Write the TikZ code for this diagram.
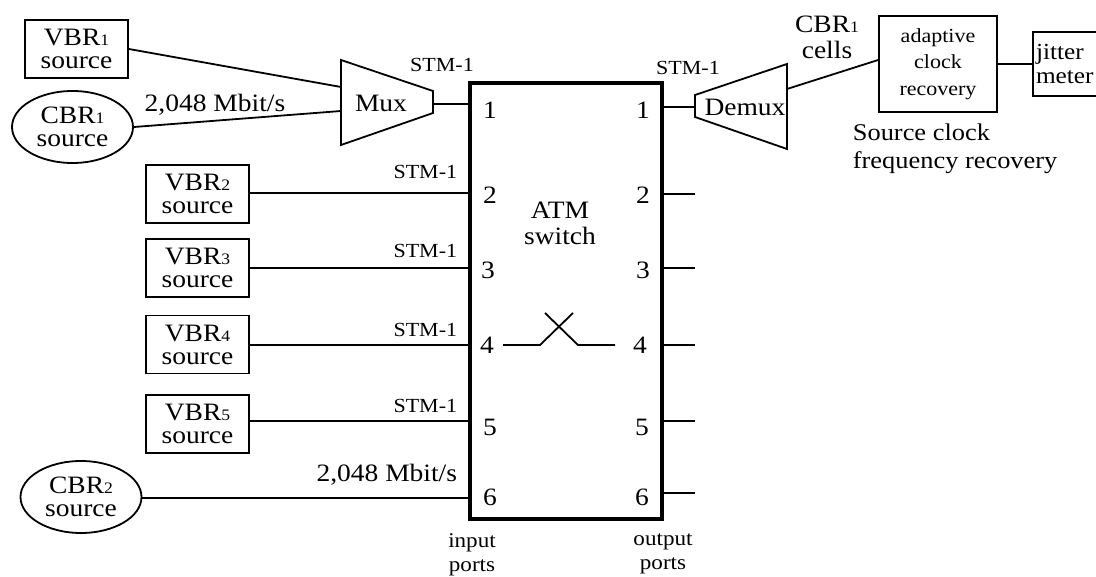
\documentclass[tikz,border=0pt]{standalone}
\usepackage{fontspec}
\setmainfont{Liberation Serif}[FakeStretch=1.1]
\usetikzlibrary{shapes.geometric}
\newcommand{\kecil}[1]{{\fontsize{16}{16}\selectfont #1}}

\begin{document}
\begin{tikzpicture}[x=1pt, y=-1pt, line width=1.8pt,
    sumber/.style={draw, rectangle, minimum width=103pt, minimum height=58pt,
        inner sep=0pt, align=center, font=\fontsize{25}{23}\selectfont},
    sumberbulat/.style={sumber, ellipse, minimum width=121pt, minimum height=72pt},
    stm/.style={inner sep=0pt, font=\fontsize{20}{20}\selectfont},
    teks/.style={inner sep=0pt, align=center, font=\fontsize{25}{26}\selectfont},
    nomor/.style={inner sep=0pt, font=\fontsize{25}{25}\selectfont}]

\clip (0,0) rectangle (1096,577);

    % Sumber trafik
    \node[sumber] (vbr1) at (76.5,49) {VBR\kecil{1}\\source};
    \node[sumberbulat] (cbr1) at (72.5,127) {CBR\kecil{1}\\source};
    \node[sumber] (vbr2) at (197.5,194) {VBR\kecil{2}\\source};
    \node[sumber] (vbr3) at (197.5,268) {VBR\kecil{3}\\source};
    \node[sumber] (vbr4) at (197.5,344.5) {VBR\kecil{4}\\source};
    \node[sumber] (vbr5) at (197.5,424) {VBR\kecil{5}\\source};
    \node[sumberbulat] (cbr2) at (81,497) {CBR\kecil{2}\\source};

    % Mux dan demux
    \draw (341,60) -- (433,91) -- (433,113) -- (341,145) -- cycle;
    \node[teks] (mux) at (381,103) {Mux};
    \coordinate (muxa) at (341,87);
    \coordinate (muxb) at (341,111);
    \coordinate (muxout) at (433,104);
    \draw (695,95) -- (787,64) -- (787,149) -- (695,117) -- cycle;
    \node[teks] (demux) at (745,107) {Demux};
    \coordinate (demuxin) at (695,107);
    \coordinate (demuxout) at (787,89);

    % Switch ATM
    \node[draw, line width=3.3pt, minimum width=192pt, minimum height=436pt,
        inner sep=0pt] (atm) at (566,301) {};
    \node[teks] (atmteks) at (560,223) {ATM\\switch};
    \coordinate (pin1) at (470,104);
    \coordinate (pin2) at (470,193);
    \coordinate (pin3) at (470,268);
    \coordinate (pin4) at (470,345);
    \coordinate (pin5) at (470,421);
    \coordinate (pin6) at (470,498);
    \coordinate (pout1) at (662,107);
    \coordinate (pout2) at (662,194);
    \coordinate (pout3) at (662,268);
    \coordinate (pout4) at (662,345);
    \coordinate (pout5) at (662,421);
    \coordinate (pout6) at (662,493);
    \coordinate (ujung2) at (695,194);
    \coordinate (ujung3) at (695,268);
    \coordinate (ujung4) at (695,345);
    \coordinate (ujung5) at (695,421);
    \coordinate (ujung6) at (695,493);

    \node[nomor] (i1) at (490,110) {1};
    \node[nomor] (i2) at (490,195) {2};
    \node[nomor] (i3) at (488,270) {3};
    \node[nomor] (i4) at (487,345) {4};
    \node[nomor] (i5) at (490,427) {5};
    \node[nomor] (i6) at (490,497) {6};
    \node[nomor] (o1) at (643,110) {1};
    \node[nomor] (o2) at (643,195) {2};
    \node[nomor] (o3) at (643,270) {3};
    \node[nomor] (o4) at (640,345) {4};
    \node[nomor] (o5) at (642,427) {5};
    \node[nomor] (o6) at (642,497) {6};

    % Silang di dalam switch
    \draw (503,345) -- (540,345) -- (573,313);
    \draw (545,313) -- (578,345) -- (615,345);

    % Pemulihan clock
    \node[draw, minimum width=118pt, minimum height=96pt, inner sep=0pt,
        align=center, font=\fontsize{20}{26.5}\selectfont] (adaptif) at (938,64)
        {adaptive\\clock\\recovery};
    \node[draw, text width=70pt, inner xsep=3pt, minimum height=64pt, align=left,
        font=\fontsize{23}{24}\selectfont] (jitter) at (1071,64) {jitter\\meter};

    % Sambungan
    \draw (vbr1.east) -- (muxa);
    \draw (cbr1.east) -- (muxb);
    \draw (muxout) -- (pin1);
    \draw (vbr2.east |- pin2) -- (pin2);
    \draw (vbr3.east |- pin3) -- (pin3);
    \draw (vbr4.east |- pin4) -- (pin4);
    \draw (vbr5.east |- pin5) -- (pin5);
    \draw (cbr2.east |- pin6) -- (pin6);
    \draw (pout1) -- (demuxin);
    \draw (pout2) -- (ujung2);
    \draw (pout3) -- (ujung3);
    \draw (pout4) -- (ujung4);
    \draw (pout5) -- (ujung5);
    \draw (pout6) -- (ujung6);
    \draw (demuxout) -- ([yshift=4pt]adaptif.west);
    \draw (adaptif.east) -- (jitter.west);

    % Keterangan
    \node[teks] (rate1) at (215,105) {2,048 Mbit/s};
    \node[teks, anchor=east] (rate2) at (458,475) {2,048 Mbit/s};
    \node[stm] (stmmux) at (442,65) {STM-1};
    \node[stm] (stmdemux) at (688,68) {STM-1};
    \node[stm, anchor=east] (stm2) at (458,172) {STM-1};
    \node[stm, anchor=east] (stm3) at (458,251) {STM-1};
    \node[stm, anchor=east] (stm4) at (458,330) {STM-1};
    \node[stm, anchor=east] (stm5) at (458,406) {STM-1};
    \node[teks] (sel) at (827,37) {CBR\kecil{1}\\cells};
    \node[inner sep=0pt, align=left, anchor=west, font=\fontsize{24}{28}\selectfont]
        (frek) at (852,149) {Source clock\\frequency recovery};
    \node[inner sep=0pt, align=center, font=\fontsize{21}{24}\selectfont]
        (masuk) at (472,555) {input\\ports};
    \node[inner sep=0pt, align=center, font=\fontsize{21}{24}\selectfont]
        (keluar) at (663,554) {output\\ports};

\end{tikzpicture}
\end{document}
